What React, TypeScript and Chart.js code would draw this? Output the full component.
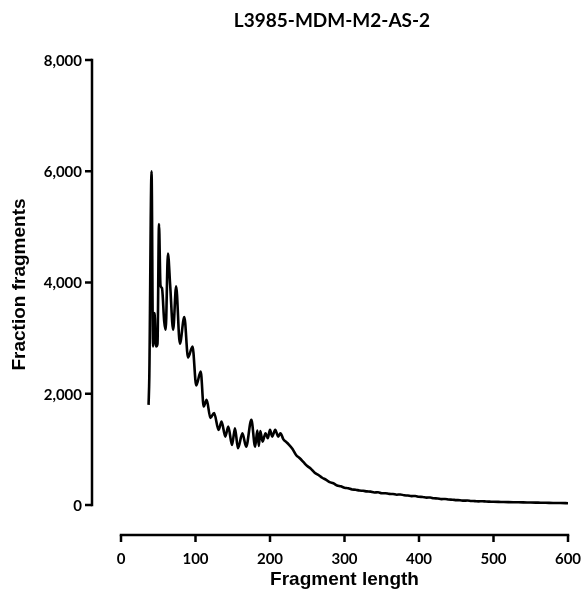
import React, { useEffect, useRef } from "react";
import { Chart, registerables } from "chart.js";

Chart.register(...registerables);

const chartTitle = "L3985-MDM-M2-AS-2";
const xTitle = "Fragment length";
const yTitle = "Fraction fragments";

const xTicks = [0, 100, 200, 300, 400, 500, 600];
const yTicks = [0, 2000, 4000, 6000, 8000];

const fragmentLengths = [
  37, 38, 41, 43, 45, 47, 49, 51, 53, 55, 58, 60, 63, 66, 70, 74, 79, 85, 90, 96,
  101, 107, 111, 115, 120, 125, 131, 135, 140, 144, 149, 153, 157, 163, 168, 175, 180, 183, 185, 187,
  190, 194, 197, 200, 203, 207, 211, 214, 218, 222,
  225, 230, 235, 240, 245, 250, 255, 260, 265, 270, 275, 280, 285, 290, 295, 300,
  305, 310, 315, 320, 325, 330, 335, 340, 345, 350, 355, 360, 365, 370, 375, 380,
  385, 390, 395, 400, 405, 410, 415, 420, 425, 430, 435, 440, 445, 450, 455, 460,
  465, 470, 475, 480, 485, 490, 495, 500, 510, 520, 530, 540, 550, 560, 570, 580, 590, 600,
];

const fractionFragments = [
  1800, 2300, 6000, 2850, 3450, 2850, 2900, 5050, 3950, 3900, 3300, 3150, 4520, 3950, 3150, 3930, 2900, 3380, 2650, 2850,
  2150, 2400, 1770, 1890, 1565, 1655, 1350, 1500, 1230, 1410, 1080, 1380, 1020, 1290, 1050, 1530, 1050, 1340, 1060, 1330,
  1140, 1290, 1200, 1350, 1230, 1350, 1230, 1290, 1180, 1130,
  1090, 1010, 900, 840, 770, 700, 650, 580, 540, 490, 455, 410, 390, 350, 335, 310,
  300, 280, 275, 260, 255, 245, 240, 225, 228, 210, 212, 200, 198, 185, 190, 175,
  170, 160, 162, 148, 145, 132, 135, 120, 118, 105, 108, 98, 95, 88, 86, 78,
  80, 72, 70, 66, 68, 62, 60, 58, 55, 52, 50, 48, 44, 42, 40, 36, 35, 32,
];

const prismAxes = {
  id: "prismAxes",
  afterDraw(chart: any) {
    const ctx = chart.ctx;
    const xs = chart.scales.x;
    const ys = chart.scales.y;
    const area = chart.chartArea;
    ctx.save();
    ctx.strokeStyle = "#000";
    ctx.fillStyle = "#000";
    ctx.lineWidth = 2.5;
    ctx.lineCap = "butt";

    // Y axis (detached)
    const axX = area.left - 29;
    const yTop = ys.getPixelForValue(yTicks[yTicks.length - 1]);
    const yBot = ys.getPixelForValue(yTicks[0]);
    ctx.beginPath();
    ctx.moveTo(axX, yTop - 1.25);
    ctx.lineTo(axX, yBot + 1.25);
    ctx.stroke();
    ctx.font = "bold 15px Lato, 'Open Sans', sans-serif";
    ctx.textAlign = "right";
    ctx.textBaseline = "middle";
    yTicks.forEach((v) => {
      const py = ys.getPixelForValue(v);
      ctx.beginPath();
      ctx.moveTo(axX - 7, py);
      ctx.lineTo(axX, py);
      ctx.stroke();
      ctx.fillText(v.toLocaleString("en-US"), axX - 10, py + 1);
    });

    // X axis (detached)
    const axY = area.bottom + 30;
    const xL = xs.getPixelForValue(xTicks[0]);
    const xR = xs.getPixelForValue(xTicks[xTicks.length - 1]);
    ctx.beginPath();
    ctx.moveTo(xL - 1.25, axY);
    ctx.lineTo(xR + 1.25, axY);
    ctx.stroke();
    ctx.textAlign = "center";
    ctx.textBaseline = "middle";
    xTicks.forEach((v) => {
      const px = xs.getPixelForValue(v);
      ctx.beginPath();
      ctx.moveTo(px, axY);
      ctx.lineTo(px, axY + 7);
      ctx.stroke();
      ctx.fillText(String(v), px, axY + 24);
    });

    // Axis titles
    ctx.font = "bold 19px 'Liberation Sans', Arial, sans-serif";
    ctx.textAlign = "center";
    ctx.textBaseline = "middle";
    ctx.fillText(xTitle, (xL + xR) / 2, 580);
    ctx.save();
    ctx.translate(20, (yTop + yBot) / 2 + 2);
    ctx.rotate(-Math.PI / 2);
    ctx.fillText(yTitle, 0, 0);
    ctx.restore();

    // Chart title
    ctx.font = "bold 19px Lato, 'Open Sans', sans-serif";
    ctx.fillText(chartTitle, 332, 21);
    ctx.restore();
  },
};

export default function App() {
  const ref = useRef<HTMLCanvasElement | null>(null);
  useEffect(() => {
    if (!ref.current) return;
    const data = fragmentLengths.map((x, i) => ({ x, y: fractionFragments[i] }));
    const chart = new Chart(ref.current, {
      type: "line",
      data: {
        datasets: [
          {
            data,
            borderColor: "#000",
            borderWidth: 2.6,
            pointRadius: 0,
            cubicInterpolationMode: "monotone",
            fill: false,
          },
        ],
      },
      options: {
        responsive: false,
        animation: false,
        layout: { padding: { left: 121, right: 17, top: 60, bottom: 95 } },
        plugins: { legend: { display: false }, tooltip: { enabled: false }, title: { display: false } },
        scales: {
          x: { type: "linear", min: 0, max: 600, display: false },
          y: { type: "linear", min: 0, max: 8000, display: false },
        },
      },
      plugins: [prismAxes],
    });
    return () => chart.destroy();
  }, []);
  return (
    <div style={{ position: "absolute", left: 0, top: 0, width: 585, height: 600, background: "#fff" }}>
      <canvas ref={ref} width={585} height={600} style={{ display: "block" }} />
    </div>
  );
}
